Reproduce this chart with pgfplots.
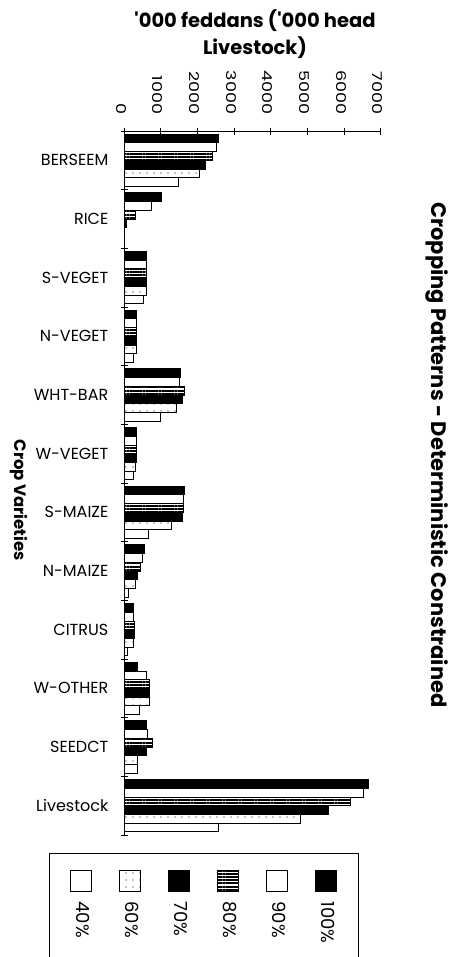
\documentclass[border=0pt]{standalone}
\usepackage{fontspec}
\setmainfont{Poppins}
\newfontfamily\numfont[FakeStretch=1.3]{Poppins}
\usepackage{pgfplots}
\pgfplotsset{compat=1.18}
\usetikzlibrary{patterns,patterns.meta}

% categories from bottom (0) to top (11): Livestock ... BERSEEM
\begin{document}
\begin{tikzpicture}
\path[use as bounding box] (0pt,0pt) rectangle (466pt,-957pt);
\begin{axis}[
  at={(124pt,-835pt)}, anchor=south west,
  scale only axis, width=256.7pt, height=704pt,
  xbar=0pt, bar width=8.67pt,
  xmin=0, xmax=7000, ymin=-0.5, ymax=11.5,
  axis x line*=top, axis y line*=left,
  axis line style={line width=1pt, black},
  xtick={0,1000,...,7000},
  scaled x ticks=false,
  /pgf/number format/1000 sep={},
  /pgf/number format/assume math mode=true,
  xticklabel style={yshift=13pt, xshift=-3pt, rotate=-90, anchor=east, inner sep=0pt,
    font=\numfont\fontsize{13.5}{14}\selectfont},
  ytick={0,...,11},
  yticklabels={Livestock,SEEDCT,W-OTHER,CITRUS,N-MAIZE,S-MAIZE,W-VEGET,WHT-BAR,N-VEGET,S-VEGET,RICE,BERSEEM},
  yticklabel style={font=\fontsize{16}{16}\selectfont, inner sep=0pt, xshift=-12pt},
  minor ytick={-0.5,0.5,...,11.5},
  major y tick style={draw=none},
  tick align=center, major tick length=7pt, minor tick length=7pt,
  tick style={line width=0.8pt, black},
  every axis plot/.append style={draw=black, line width=1pt},
  legend columns=6,
  legend style={at={(-0.2922,-0.0256)}, anchor=north west,
    draw=black, line width=1pt, inner xsep=21pt, inner ysep=16pt,
    column sep=0pt, font=\fontsize{18}{18}\selectfont,
    cells={anchor=west},
    nodes={xshift=-10.5pt, yshift=-7pt, rotate=-90, anchor=west, inner sep=0pt, overlay},
    /tikz/every even column/.append style={column sep=27pt}},
  leg/.style={legend image code/.code={
    \path (0pt,-62pt) (21pt,24pt);
    \draw[##1, line width=1pt] (0pt,3pt) rectangle (21pt,24pt);}},
]
% 40%
\addplot[leg, fill=white] coordinates {
  (2580,0) (360,1) (430,2) (100,3) (130,4) (680,5) (270,6) (1000,7) (250,8) (520,9) (0,10) (1480,11)};
\addlegendentry{40\%}
% 60%
\addplot[leg, fill=white, postaction={pattern={Dots[distance=7pt, radius=0.6pt]}}] coordinates {
  (4800,0) (360,1) (700,2) (250,3) (300,4) (1290,5) (300,6) (1440,7) (330,8) (600,9) (0,10) (2050,11)};
\addlegendentry{60\%}
% 70%
\addplot[leg, fill=black] coordinates {
  (5580,0) (620,1) (700,2) (290,3) (380,4) (1590,5) (330,6) (1600,7) (330,8) (600,9) (60,10) (2230,11)};
\addlegendentry{70\%}
% 80%
\addplot[leg, fill=white, postaction={pattern={Lines[angle=0, distance=3.2pt, line width=2pt]}}] coordinates {
  (6180,0) (780,1) (690,2) (290,3) (450,4) (1630,5) (330,6) (1640,7) (330,8) (600,9) (300,10) (2420,11)};
\addlegendentry{80\%}
% 90%
\addplot[leg, fill=white] coordinates {
  (6540,0) (650,1) (600,2) (250,3) (500,4) (1630,5) (330,6) (1510,7) (330,8) (600,9) (755,10) (2510,11)};
\addlegendentry{90\%}
% 100%
\addplot[leg, fill=black] coordinates {
  (6680,0) (620,1) (370,2) (270,3) (560,4) (1650,5) (330,6) (1550,7) (330,8) (620,9) (1010,10) (2570,11)};
\addlegendentry{100\%}
\end{axis}
\node[rotate=-90, font=\bfseries\fontsize{21}{21}\selectfont] at (437pt,-455pt)
  {Cropping Patterns - Deterministic Constrained};
\node[align=center, font=\bfseries\fontsize{19.5}{27}\selectfont] at (255pt,-34pt)
  {\textquotesingle000 feddans (\textquotesingle000 head\\Livestock)};
\node[rotate=-90, font=\bfseries\fontsize{16.5}{17}\selectfont] at (19pt,-500pt)
  {Crop Varieties};
\end{tikzpicture}
\end{document}
